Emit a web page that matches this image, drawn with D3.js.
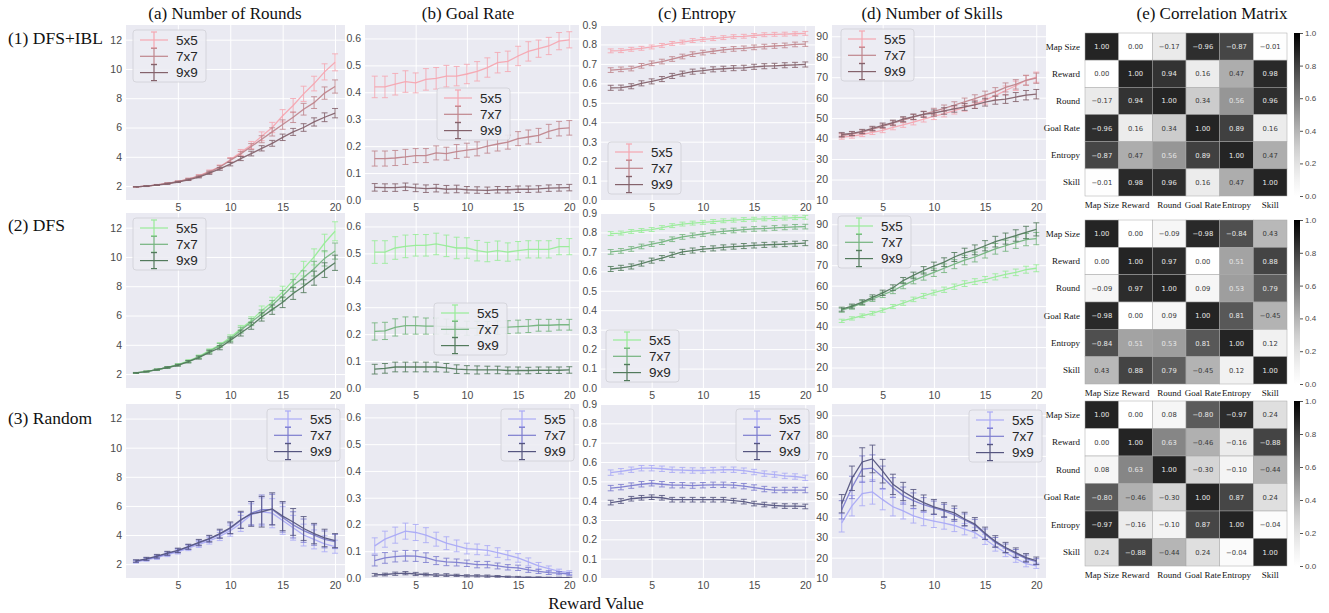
<!DOCTYPE html>
<html>
<head>
<meta charset="utf-8">
<script src="https://cdn.jsdelivr.net/npm/d3@7"></script>
<style>
body { margin: 0; background: #fff; }
svg text { font-family: "Liberation Sans", Arial, sans-serif; }
.serif { font-family: "Liberation Serif", "Times New Roman", serif !important; }
</style>
</head>
<body>
<svg id="chart" width="1329" height="613"></svg>
<script>
// ---- data ----
var rewards = [1,2,3,4,5,6,7,8,9,10,11,12,13,14,15,16,17,18,19,20];
var sizes = ['5x5', '7x7', '9x9'];
var methods = ['(1) DFS+IBL', '(2) DFS', '(3) Random'];
var panelTitles = ['(a) Number of Rounds', '(b) Goal Rate', '(c) Entropy', '(d) Number of Skills', '(e) Correlation Matrix'];
var matrixLabels = ['Map Size', 'Reward', 'Round', 'Goal Rate', 'Entropy', 'Skill'];

var xTicks = [5, 10, 15, 20];
var roundTicks = [2, 4, 6, 8, 10, 12];
var goalTicks = [0.0, 0.1, 0.2, 0.3, 0.4, 0.5, 0.6];
var entropyTicks = [0.0, 0.1, 0.2, 0.3, 0.4, 0.5, 0.6, 0.7, 0.8, 0.9];
var skillTicks = [10, 20, 30, 40, 50, 60, 70, 80, 90];
var colorbarTicks = [0.0, 0.2, 0.4, 0.6, 0.8, 1.0];

// number of rounds  [5x5, 7x7, 9x9]
var roundsIbl = [
  [1.95,2.0,2.08,2.18,2.3,2.48,2.7,3.0,3.32,3.8,4.3,4.8,5.4,6.0,6.8,7.5,8.3,9.0,9.8,10.45],
  [1.95,2.0,2.08,2.18,2.3,2.47,2.68,2.95,3.3,3.75,4.2,4.7,5.2,5.7,6.2,6.7,7.25,7.7,8.35,8.8],
  [1.95,2.0,2.07,2.16,2.28,2.43,2.62,2.88,3.18,3.5,3.88,4.22,4.58,4.92,5.33,5.7,6.0,6.38,6.7,6.98]];
var roundsIblErr = [
  [0.02,0.03,0.03,0.04,0.05,0.06,0.08,0.1,0.12,0.15,0.2,0.25,0.3,0.35,0.42,0.48,0.52,0.5,0.55,0.58],
  [0.02,0.03,0.03,0.04,0.05,0.06,0.07,0.09,0.11,0.14,0.17,0.2,0.24,0.28,0.32,0.36,0.4,0.4,0.42,0.45],
  [0.02,0.03,0.03,0.04,0.04,0.05,0.06,0.08,0.1,0.12,0.14,0.16,0.18,0.2,0.22,0.24,0.26,0.28,0.3,0.32]];
var roundsDfs = [
  [2.08,2.18,2.3,2.45,2.65,2.9,3.2,3.6,4.0,4.5,5.1,5.65,6.35,6.9,7.6,8.4,9.2,10.0,10.95,11.75],
  [2.08,2.17,2.3,2.45,2.63,2.85,3.17,3.55,3.95,4.4,5.0,5.55,6.1,6.7,7.35,8.05,8.6,9.2,9.9,10.4],
  [2.08,2.17,2.3,2.45,2.6,2.85,3.12,3.48,3.8,4.3,4.8,5.3,5.9,6.4,6.9,7.5,8.0,8.55,9.1,9.6]];
var roundsDfsErr = [
  [0.03,0.03,0.04,0.05,0.06,0.08,0.1,0.12,0.15,0.18,0.22,0.26,0.3,0.35,0.4,0.45,0.5,0.55,0.6,0.65],
  [0.03,0.03,0.04,0.05,0.06,0.08,0.1,0.12,0.14,0.17,0.2,0.24,0.28,0.32,0.36,0.4,0.45,0.5,0.52,0.55],
  [0.03,0.03,0.04,0.05,0.06,0.08,0.1,0.12,0.14,0.17,0.2,0.24,0.28,0.32,0.36,0.4,0.44,0.48,0.5,0.52]];
var roundsRandom = [
  [2.15,2.3,2.45,2.65,2.85,3.1,3.35,3.6,3.9,4.3,4.8,5.4,5.6,5.5,5.0,4.5,4.0,3.7,3.4,3.2],
  [2.2,2.35,2.5,2.72,2.92,3.18,3.45,3.72,4.05,4.45,5.0,5.5,5.75,5.75,5.2,4.7,4.3,4.0,3.7,3.55],
  [2.22,2.37,2.55,2.75,2.95,3.2,3.5,3.76,4.1,4.5,5.05,5.45,5.6,5.8,5.3,4.9,4.45,4.1,3.8,3.62]];
var roundsRandomErr = [
  [0.08,0.1,0.12,0.13,0.15,0.17,0.2,0.22,0.28,0.38,0.55,0.75,0.95,1.0,0.95,0.85,0.75,0.65,0.55,0.45],
  [0.08,0.1,0.12,0.13,0.15,0.17,0.2,0.22,0.28,0.38,0.55,0.8,1.0,1.05,1.0,0.9,0.8,0.7,0.58,0.48],
  [0.08,0.1,0.12,0.13,0.15,0.17,0.2,0.22,0.3,0.4,0.58,0.85,1.05,1.1,1.0,0.92,0.82,0.7,0.6,0.48]];

// goal rate
var goalIbl = [
  [0.42,0.42,0.43,0.44,0.435,0.448,0.452,0.46,0.46,0.468,0.478,0.492,0.51,0.515,0.535,0.552,0.562,0.572,0.59,0.595],
  [0.154,0.154,0.156,0.16,0.165,0.165,0.175,0.172,0.18,0.185,0.19,0.2,0.208,0.215,0.228,0.234,0.24,0.255,0.265,0.268],
  [0.047,0.046,0.046,0.049,0.045,0.042,0.044,0.04,0.041,0.038,0.037,0.036,0.038,0.038,0.04,0.04,0.041,0.044,0.045,0.046]];
var goalIblErr = [
  [0.04,0.04,0.04,0.04,0.037,0.04,0.04,0.04,0.036,0.036,0.036,0.036,0.038,0.038,0.036,0.036,0.032,0.032,0.032,0.03],
  [0.028,0.028,0.028,0.028,0.026,0.026,0.026,0.024,0.026,0.026,0.026,0.026,0.026,0.026,0.026,0.026,0.026,0.026,0.027,0.027],
  [0.014,0.014,0.014,0.014,0.014,0.014,0.014,0.014,0.014,0.012,0.012,0.012,0.012,0.012,0.012,0.012,0.012,0.012,0.012,0.012]];
var goalDfs = [
  [0.505,0.505,0.52,0.526,0.53,0.53,0.535,0.528,0.52,0.52,0.51,0.505,0.51,0.505,0.51,0.515,0.515,0.515,0.525,0.525],
  [0.21,0.212,0.225,0.232,0.232,0.23,0.23,0.228,0.226,0.222,0.222,0.222,0.224,0.226,0.228,0.23,0.233,0.233,0.235,0.235],
  [0.07,0.073,0.078,0.078,0.078,0.078,0.078,0.075,0.07,0.068,0.067,0.067,0.067,0.065,0.065,0.065,0.066,0.066,0.066,0.067]];
var goalDfsErr = [
  [0.042,0.042,0.042,0.042,0.04,0.04,0.04,0.04,0.04,0.038,0.038,0.036,0.036,0.034,0.034,0.032,0.032,0.032,0.03,0.03],
  [0.032,0.032,0.032,0.032,0.032,0.03,0.03,0.028,0.028,0.026,0.026,0.025,0.025,0.024,0.024,0.024,0.022,0.022,0.02,0.02],
  [0.018,0.018,0.018,0.018,0.018,0.018,0.018,0.016,0.016,0.015,0.015,0.014,0.014,0.013,0.013,0.012,0.012,0.012,0.012,0.012]];
var goalRandom = [
  [0.12,0.145,0.16,0.175,0.17,0.16,0.145,0.13,0.12,0.11,0.107,0.103,0.095,0.085,0.075,0.06,0.045,0.035,0.025,0.02],
  [0.065,0.075,0.08,0.083,0.082,0.076,0.065,0.06,0.058,0.055,0.05,0.05,0.045,0.04,0.038,0.03,0.025,0.02,0.018,0.015],
  [0.012,0.013,0.016,0.018,0.015,0.013,0.011,0.011,0.01,0.008,0.008,0.007,0.006,0.004,0.003,0.002,0.002,0.001,0.001,0.001]];
var goalRandomErr = [
  [0.03,0.03,0.03,0.03,0.03,0.028,0.026,0.024,0.022,0.02,0.02,0.018,0.018,0.017,0.016,0.015,0.013,0.01,0.008,0.007],
  [0.02,0.02,0.02,0.02,0.02,0.018,0.015,0.014,0.013,0.012,0.012,0.012,0.011,0.01,0.01,0.009,0.008,0.007,0.006,0.005],
  [0.005,0.005,0.006,0.006,0.006,0.005,0.005,0.005,0.004,0.004,0.004,0.004,0.003,0.003,0.003,0.002,0.002,0.002,0.002,0.002]];

// entropy
var entropyIbl = [
  [0.767,0.768,0.775,0.78,0.787,0.795,0.805,0.812,0.82,0.826,0.83,0.835,0.84,0.842,0.846,0.85,0.852,0.853,0.855,0.857],
  [0.668,0.672,0.676,0.69,0.703,0.712,0.725,0.738,0.75,0.758,0.765,0.772,0.777,0.78,0.785,0.789,0.792,0.795,0.8,0.802],
  [0.577,0.578,0.585,0.6,0.61,0.622,0.638,0.65,0.66,0.665,0.672,0.675,0.678,0.68,0.685,0.688,0.69,0.693,0.695,0.697]];
var entropyIblErr = [
  [0.01,0.01,0.01,0.01,0.01,0.01,0.01,0.01,0.01,0.01,0.01,0.01,0.01,0.01,0.01,0.01,0.01,0.01,0.01,0.01],
  [0.012,0.012,0.012,0.012,0.012,0.012,0.012,0.012,0.012,0.012,0.012,0.012,0.012,0.012,0.012,0.012,0.012,0.012,0.012,0.012],
  [0.013,0.013,0.013,0.013,0.013,0.013,0.013,0.013,0.013,0.013,0.013,0.013,0.013,0.013,0.013,0.013,0.013,0.013,0.013,0.013]];
var entropyDfs = [
  [0.794,0.797,0.805,0.81,0.815,0.825,0.835,0.843,0.848,0.852,0.856,0.86,0.863,0.866,0.868,0.87,0.872,0.874,0.876,0.878],
  [0.70,0.705,0.715,0.728,0.74,0.75,0.765,0.777,0.785,0.792,0.8,0.806,0.81,0.815,0.818,0.82,0.823,0.826,0.829,0.83],
  [0.612,0.618,0.625,0.64,0.655,0.668,0.685,0.7,0.707,0.714,0.718,0.723,0.727,0.73,0.733,0.736,0.738,0.74,0.742,0.745]];
var entropyDfsErr = [
  [0.01,0.01,0.01,0.01,0.01,0.01,0.01,0.01,0.01,0.01,0.01,0.01,0.01,0.01,0.01,0.01,0.01,0.01,0.01,0.01],
  [0.012,0.012,0.012,0.012,0.012,0.012,0.012,0.012,0.012,0.012,0.012,0.012,0.012,0.012,0.012,0.012,0.012,0.012,0.012,0.012],
  [0.013,0.013,0.013,0.013,0.013,0.013,0.013,0.013,0.013,0.013,0.013,0.013,0.013,0.013,0.013,0.013,0.013,0.013,0.013,0.013]];
var entropyRandom = [
  [0.545,0.552,0.56,0.568,0.568,0.565,0.56,0.558,0.556,0.556,0.558,0.56,0.56,0.555,0.548,0.54,0.535,0.528,0.525,0.518],
  [0.465,0.47,0.478,0.485,0.49,0.485,0.48,0.48,0.478,0.48,0.482,0.482,0.48,0.475,0.468,0.46,0.455,0.455,0.455,0.455],
  [0.39,0.398,0.41,0.415,0.418,0.415,0.405,0.405,0.405,0.405,0.405,0.405,0.4,0.395,0.385,0.38,0.375,0.372,0.372,0.37]];
var entropyRandomErr = [
  [0.014,0.014,0.014,0.014,0.014,0.014,0.014,0.014,0.014,0.014,0.014,0.014,0.014,0.014,0.014,0.014,0.014,0.014,0.014,0.014],
  [0.014,0.014,0.014,0.014,0.014,0.014,0.014,0.014,0.014,0.014,0.014,0.014,0.014,0.014,0.014,0.014,0.014,0.014,0.014,0.014],
  [0.012,0.012,0.012,0.012,0.012,0.012,0.012,0.012,0.012,0.012,0.012,0.012,0.012,0.012,0.012,0.012,0.012,0.012,0.012,0.012]];

// number of skills
var skillsIbl = [
  [40.7,41.2,42,43,44,45.5,46.7,48,49.5,50.8,52.2,53.7,55.2,56.8,58.8,61,63.5,65.8,68.5,70],
  [41.5,42.3,43.2,44.6,46,47.5,49,50.5,52,53.3,54.8,56.3,58,59.5,61.2,62.8,65,66.5,68.5,69.5],
  [42,42.5,43.5,45,46.5,47.8,49.5,50.7,51.8,52.5,53.5,54.5,55.5,56.5,57.8,58.8,59.3,60.3,61.2,61.7]];
var skillsIblErr = [
  [1,1,1,1,1.1,1.2,1.2,1.3,1.4,1.5,1.6,1.7,1.8,1.9,2,2.1,2.2,2.3,2.4,2.5],
  [1,1,1,1,1.1,1.2,1.2,1.3,1.4,1.5,1.6,1.7,1.8,1.9,2,2.1,2.2,2.3,2.4,2.5],
  [1,1,1,1,1.1,1.2,1.2,1.3,1.4,1.5,1.6,1.6,1.7,1.8,1.9,2,2.1,2.2,2.3,2.3]];
var skillsDfs = [
  [42.8,44,45.3,46.5,48,49.8,51.5,53.3,55,56.6,58,59.5,61,62,63,64.3,65.5,66.5,67.8,68.5],
  [48,49.5,51.5,53.5,55.5,57.5,60,62.5,64.5,66.5,68.5,70.5,72.5,74,76,78,79.5,81,82.5,83],
  [48.5,50,52,54.3,56.5,59,62.5,65,67.5,69.5,71.5,74,76,77.5,79.5,81.5,83,84.5,86,87.5]];
var skillsDfsErr = [
  [0.8,0.8,0.9,0.9,1,1,1.1,1.1,1.2,1.2,1.3,1.3,1.4,1.4,1.5,1.5,1.6,1.6,1.7,1.7],
  [1,1,1.1,1.2,1.3,1.4,1.5,1.6,1.8,2,2.1,2.2,2.3,2.4,2.5,2.6,2.7,2.8,3,3],
  [1,1,1.1,1.2,1.3,1.4,1.5,1.6,1.8,2,2.1,2.2,2.3,2.4,2.5,2.6,2.7,2.8,3,3.2]];
var skillsRandom = [
  [37.1,45.5,51.5,52.3,48.5,45,43,40.5,39,38,37,35.8,34,32.3,29,25.5,22.5,19.5,17,16],
  [43.5,54.5,63.5,64,59.5,54.5,50.5,48,46,44.5,43,41,38.5,36,31.5,27.5,24.5,22,19.5,18],
  [46.5,59,67,68.5,62.5,56,52.5,49.5,47,45,43.5,42,39,36.5,32,28,25,22.5,20,18.5]];
var skillsRandomErr = [
  [4.5,5,6,6,5,4.5,4,3.5,3.3,3.2,3,3,2.8,2.6,2.5,2.3,2,1.8,1.5,1.3],
  [4.5,5.5,6.5,6.5,5.5,4.8,4.2,3.8,3.5,3.3,3.2,3.2,3,2.8,2.6,2.4,2.2,2,1.8,1.5],
  [4.5,6,7,6.8,5.8,5,4.5,4,3.8,3.6,3.5,3.4,3.3,3.2,3,2.8,2.5,2.3,2,1.8]];

// correlation matrices
var corrIbl = [
  [1.00, 0.00, -0.17, -0.96, -0.87, -0.01],
  [0.00, 1.00, 0.94, 0.16, 0.47, 0.98],
  [-0.17, 0.94, 1.00, 0.34, 0.56, 0.96],
  [-0.96, 0.16, 0.34, 1.00, 0.89, 0.16],
  [-0.87, 0.47, 0.56, 0.89, 1.00, 0.47],
  [-0.01, 0.98, 0.96, 0.16, 0.47, 1.00]];
var corrDfs = [
  [1.00, 0.00, -0.09, -0.98, -0.84, 0.43],
  [0.00, 1.00, 0.97, -0.001, 0.51, 0.88],
  [-0.09, 0.97, 1.00, 0.09, 0.53, 0.79],
  [-0.98, -0.001, 0.09, 1.00, 0.81, -0.45],
  [-0.84, 0.51, 0.53, 0.81, 1.00, 0.12],
  [0.43, 0.88, 0.79, -0.45, 0.12, 1.00]];
var corrRandom = [
  [1.00, 0.00, 0.08, -0.80, -0.97, 0.24],
  [0.00, 1.00, 0.63, -0.46, -0.16, -0.88],
  [0.08, 0.63, 1.00, -0.30, -0.10, -0.44],
  [-0.80, -0.46, -0.30, 1.00, 0.87, 0.24],
  [-0.97, -0.16, -0.10, 0.87, 1.00, -0.04],
  [0.24, -0.88, -0.44, 0.24, -0.04, 1.00]];

// ---- layout / style ----
var colX = [[126, 345], [365, 579], [601, 815], [832, 1046]];
var rowY = [[25, 200], [213, 388], [404, 578]];
var palettes = [
  ['#f5a7b1', '#c0868d', '#84626b'],
  ['#98ec98', '#74b47e', '#527a5c'],
  ['#aaaaf6', '#7d7dcf', '#55557f']];
// legend box [x, y] for each row / column
var legendPos = [
  [[133, 30], [437, 88], [608, 142], [841, 29]],
  [[133, 218], [434, 303], [606, 330], [838, 216]],
  [[267, 409], [501, 409], [736, 409], [969, 410]]];
var matX = [1085, 1287];
var matY = [[33, 196], [220, 384], [401, 566]];

var metrics = [
  {means: [roundsIbl, roundsDfs, roundsRandom], errs: [roundsIblErr, roundsDfsErr, roundsRandomErr],
   domain: [1.05, 13.0], ticks: roundTicks, fmt: d3.format('d')},
  {means: [goalIbl, goalDfs, goalRandom], errs: [goalIblErr, goalDfsErr, goalRandomErr],
   domain: [0, 0.65], ticks: goalTicks, fmt: d3.format('.1f')},
  {means: [entropyIbl, entropyDfs, entropyRandom], errs: [entropyIblErr, entropyDfsErr, entropyRandomErr],
   domain: [0, 0.9], ticks: entropyTicks, fmt: d3.format('.1f')},
  {means: [skillsIbl, skillsDfs, skillsRandom], errs: [skillsIblErr, skillsDfsErr, skillsRandomErr],
   domain: [10, 95.5], ticks: skillTicks, fmt: d3.format('d')}];
var matrices = [corrIbl, corrDfs, corrRandom];

var svg = d3.select('#chart');
var defs = svg.append('defs');

function drawPanel(r, c) {
  var m = metrics[c];
  var x0 = colX[c][0], x1 = colX[c][1], y0 = rowY[r][0], y1 = rowY[r][1];
  var x = d3.scaleLinear().domain([0.05, 20.95]).range([x0, x1]);
  var y = d3.scaleLinear().domain(m.domain).range([y1, y0]);
  var g = svg.append('g');

  g.append('rect')
      .attr('x', x0).attr('y', y0)
      .attr('width', x1 - x0).attr('height', y1 - y0)
      .attr('fill', '#eaeaf2');

  // white grid
  var gy = g.append('g')
      .attr('transform', 'translate(' + x0 + ',0)')
      .call(d3.axisLeft(y).tickValues(m.ticks).tickSize(-(x1 - x0)).tickFormat(''));
  var gx = g.append('g')
      .attr('transform', 'translate(0,' + y1 + ')')
      .call(d3.axisBottom(x).tickValues(xTicks).tickSize(-(y1 - y0)).tickFormat(''));
  [gx, gy].forEach(function(a) {
    a.select('.domain').remove();
    a.selectAll('line').attr('stroke', '#fff').attr('stroke-width', 1);
  });

  // tick labels
  var ay = g.append('g')
      .attr('transform', 'translate(' + x0 + ',0)')
      .call(d3.axisLeft(y).tickValues(m.ticks).tickSize(0).tickPadding(4).tickFormat(m.fmt));
  var ax = g.append('g')
      .attr('transform', 'translate(0,' + y1 + ')')
      .call(d3.axisBottom(x).tickValues(xTicks).tickSize(0).tickPadding(4));
  [ax, ay].forEach(function(a) {
    a.select('.domain').remove();
    a.selectAll('text')
        .style('font-size', '10.5px')
        .style('font-family', '"Liberation Sans", Arial, sans-serif')
        .attr('fill', '#4a4a4a');
  });

  var clipId = 'clip' + r + c;
  defs.append('clipPath').attr('id', clipId)
    .append('rect').attr('x', x0).attr('y', y0).attr('width', x1 - x0).attr('height', y1 - y0);
  var plot = g.append('g').attr('clip-path', 'url(#' + clipId + ')');

  var line = d3.line()
      .x(function(d, i) { return x(rewards[i]); })
      .y(function(d) { return y(d); });

  sizes.forEach(function(s, k) {
    var col = palettes[r][k];
    var means = m.means[r][k], errs = m.errs[r][k];
    var pts = means.map(function(v, i) { return {x: rewards[i], v: v, e: errs[i]}; });
    var eb = plot.append('g')
        .attr('stroke', col).attr('stroke-width', 1).attr('stroke-opacity', 0.85);
    eb.selectAll('.bar').data(pts).enter().append('line')
        .attr('x1', function(d) { return x(d.x); })
        .attr('x2', function(d) { return x(d.x); })
        .attr('y1', function(d) { return y(d.v - d.e); })
        .attr('y2', function(d) { return y(d.v + d.e); });
    [-1, 1].forEach(function(sg) {
      eb.selectAll('.cap' + sg).data(pts).enter().append('line')
          .attr('x1', function(d) { return x(d.x) - 3; })
          .attr('x2', function(d) { return x(d.x) + 3; })
          .attr('y1', function(d) { return y(d.v + sg * d.e); })
          .attr('y2', function(d) { return y(d.v + sg * d.e); });
    });
    plot.append('path')
        .datum(means)
        .attr('d', line)
        .attr('fill', 'none')
        .attr('stroke', col)
        .attr('stroke-width', 1.3)
        .attr('stroke-opacity', 0.95);
  });

  // legend
  var lp = legendPos[r][c];
  var lg = g.append('g').attr('transform', 'translate(' + lp[0] + ',' + lp[1] + ')');
  lg.append('rect')
      .attr('width', 73).attr('height', 52).attr('rx', 3)
      .attr('fill', '#ececf3').attr('fill-opacity', 0.9)
      .attr('stroke', '#cfcfd6').attr('stroke-width', 0.8);
  sizes.forEach(function(s, k) {
    var col = palettes[r][k];
    var ly = 10 + k * 16.3;
    var h = lg.append('g').attr('stroke', col).attr('stroke-width', 1.2);
    h.append('line').attr('x1', 7).attr('x2', 35).attr('y1', ly).attr('y2', ly);
    h.append('line').attr('x1', 21).attr('x2', 21).attr('y1', ly - 8).attr('y2', ly + 8);
    h.append('line').attr('x1', 18).attr('x2', 24).attr('y1', ly - 8).attr('y2', ly - 8);
    h.append('line').attr('x1', 18).attr('x2', 24).attr('y1', ly + 8).attr('y2', ly + 8);
    lg.append('text')
        .attr('x', 43).attr('y', ly + 4.7)
        .attr('fill', '#262626')
        .style('font-size', '13.5px')
        .text(s);
  });
}

function drawMatrix(r) {
  var data = matrices[r];
  var cells = [];
  data.forEach(function(row, i) {
    row.forEach(function(v, j) { cells.push({i: i, j: j, v: v}); });
  });
  var bx = d3.scaleBand().domain(d3.range(6)).range(matX);
  var by = d3.scaleBand().domain(d3.range(6)).range(matY[r]);
  var shade = d3.scaleSequential(d3.interpolateGreys).domain([0, 1]).clamp(true);
  var g = svg.append('g');

  g.selectAll('rect.cell').data(cells).enter().append('rect')
      .attr('class', 'cell')
      .attr('x', function(d) { return bx(d.j); })
      .attr('y', function(d) { return by(d.i); })
      .attr('width', bx.bandwidth())
      .attr('height', by.bandwidth())
      .attr('fill', function(d) { return shade(Math.abs(d.v)); })
      .attr('fill-opacity', 0.86)
      .attr('stroke', '#a8a8a8')
      .attr('stroke-width', 0.5);

  g.selectAll('text.val').data(cells).enter().append('text')
      .attr('x', function(d) { return bx(d.j) + bx.bandwidth() / 2; })
      .attr('y', function(d) { return by(d.i) + by.bandwidth() / 2 + 2.5; })
      .attr('text-anchor', 'middle')
      .style('font-family', '"DejaVu Sans", sans-serif')
      .style('font-size', '6.8px')
      .attr('fill', function(d) { return Math.abs(d.v) > 0.5 ? '#e6e6e6' : '#3a3a3a'; })
      .text(function(d) { return d3.format('.2f')(d.v); });

  // row labels
  g.selectAll('text.rl').data(matrixLabels).enter().append('text')
      .attr('class', 'serif')
      .attr('x', matX[0] - 5)
      .attr('y', function(d, i) { return by(i) + by.bandwidth() / 2 + 3; })
      .attr('text-anchor', 'end')
      .style('font-size', '9px')
      .attr('fill', '#111')
      .text(function(d) { return d; });
  // column labels
  g.selectAll('text.cl').data(matrixLabels).enter().append('text')
      .attr('class', 'serif')
      .attr('x', function(d, i) { return bx(i) + bx.bandwidth() / 2; })
      .attr('y', matY[r][1] + 12)
      .attr('text-anchor', 'middle')
      .style('font-size', '9px')
      .attr('fill', '#111')
      .text(function(d) { return d; });

  // colorbar
  var cy = d3.scaleLinear().domain([0, 1]).range([matY[r][1], matY[r][0]]);
  var gid = 'cbar' + r;
  var grad = defs.append('linearGradient').attr('id', gid)
      .attr('x1', 0).attr('x2', 0).attr('y1', 1).attr('y2', 0);
  d3.range(0, 1.01, 0.1).forEach(function(t) {
    grad.append('stop').attr('offset', t).attr('stop-color', shade(t));
  });
  g.append('rect')
      .attr('x', 1294).attr('y', matY[r][0])
      .attr('width', 6).attr('height', matY[r][1] - matY[r][0])
      .attr('fill', 'url(#' + gid + ')');
  var cb = g.append('g')
      .attr('transform', 'translate(1300,0)')
      .call(d3.axisRight(cy).tickValues(colorbarTicks).tickSize(3).tickPadding(2).tickFormat(d3.format('.1f')));
  cb.select('.domain').remove();
  cb.selectAll('line').attr('stroke', '#555');
  cb.selectAll('text').style('font-size', '8px').attr('fill', '#4a4a4a');
}

for (var r = 0; r < 3; r++) {
  for (var c = 0; c < 4; c++) drawPanel(r, c);
  drawMatrix(r);
}

// titles
var titleX = [225, 468, 697, 932, 1212];
svg.selectAll('text.title').data(panelTitles).enter().append('text')
    .attr('class', 'serif')
    .attr('x', function(d, i) { return titleX[i]; })
    .attr('y', 19)
    .attr('text-anchor', 'middle')
    .style('font-size', '17px')
    .attr('fill', '#111')
    .text(function(d) { return d; });

var methodY = [44, 231, 424];
svg.selectAll('text.method').data(methods).enter().append('text')
    .attr('class', 'serif')
    .attr('x', 8)
    .attr('y', function(d, i) { return methodY[i]; })
    .style('font-size', '17.5px')
    .attr('fill', '#111')
    .text(function(d) { return d; });

svg.append('text')
    .attr('class', 'serif')
    .attr('x', 596).attr('y', 609)
    .attr('text-anchor', 'middle')
    .style('font-size', '17px')
    .attr('fill', '#111')
    .text('Reward Value');
</script>
</body>
</html>
